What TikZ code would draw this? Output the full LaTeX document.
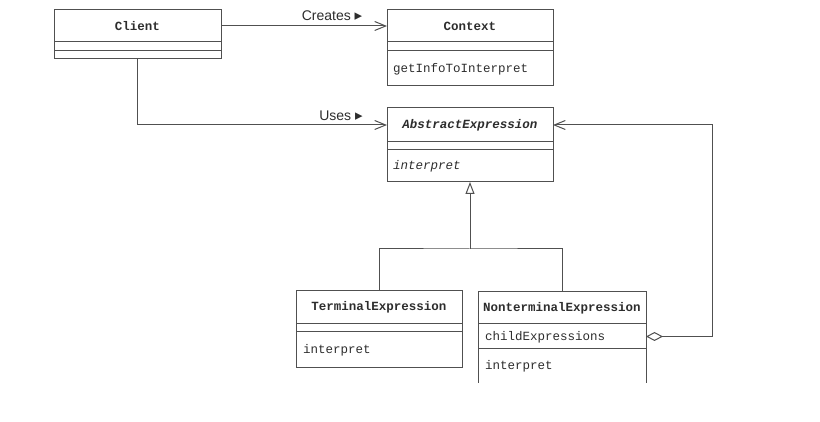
\documentclass[tikz,border=0pt]{standalone}
\usepackage{fontspec}
\setmainfont{Liberation Sans}
\setmonofont{Liberation Mono}
\newfontfamily\symfont{DejaVu Sans}
\usetikzlibrary{arrows.meta}
\definecolor{ln}{RGB}{80,80,80}
\definecolor{tx}{RGB}{45,45,45}
\tikzset{
  comp/.style={draw=ln, line width=1pt, inner sep=0pt, outer sep=0pt, anchor=north west, text=tx},
  titlefont/.style={font=\ttfamily\bfseries\fontsize{12.5}{14}\selectfont},
  opfont/.style={font=\ttfamily\fontsize{12.5}{14}\selectfont, text=tx},
  conn/.style={draw=ln, line width=1pt},
  assoc/.style={conn, -{Straight Barb[length=11pt,width=9pt,line width=1pt]}},
  gen/.style={conn, -{Triangle[open,length=12pt,width=9pt,line width=1pt,fill=white]}},
  agg/.style={conn, {Diamond[open,length=17pt,width=9pt,line width=1pt,fill=white]}-{Straight Barb[length=11pt,width=9pt,line width=1pt]}},
  lbl/.style={font=\fontsize{14}{16}\selectfont, text=tx, inner sep=0pt},
  oplbl/.style={opfont, anchor=west, inner sep=0pt}
}
\newcommand{\tri}{{\symfont\fontsize{15}{16}\selectfont ▸}}
\begin{document}
\begin{tikzpicture}[x=1pt,y=-1pt]
\useasboundingbox (0,0) rectangle (820,422);
% Client
\node[comp, titlefont, minimum width=167pt, minimum height=32pt] (cl-title) at (54,10) {Client};
\node[comp, minimum width=167pt, minimum height=9pt] (cl-attr) at (54,42) {};
\node[comp, minimum width=167pt, minimum height=8pt] (cl-ops) at (54,51) {};
% Context
\node[comp, titlefont, minimum width=166pt, minimum height=32pt] (ctx-title) at (387,10) {Context};
\node[comp, minimum width=166pt, minimum height=9pt] (ctx-attr) at (387,42) {};
\node[comp, minimum width=166pt, minimum height=35pt] (ctx-ops) at (387,51) {};
\node[oplbl] (ctx-op1) at (393,69) {getInfoToInterpret};
% AbstractExpression
\node[comp, font=\ttfamily\bfseries\itshape\fontsize{12.5}{14}\selectfont, minimum width=166pt, minimum height=34pt] (abs-title) at (387,108) {AbstractExpression};
\node[comp, minimum width=166pt, minimum height=8pt] (abs-attr) at (387,142) {};
\node[comp, minimum width=166pt, minimum height=32pt] (abs-ops) at (387,150) {};
\node[oplbl, font=\ttfamily\itshape\fontsize{12.5}{14}\selectfont] (abs-op1) at (393,166) {interpret};
% TerminalExpression
\node[comp, titlefont, minimum width=166pt, minimum height=33pt] (te-title) at (296,291) {TerminalExpression};
\node[comp, minimum width=166pt, minimum height=8pt] (te-attr) at (296,324) {};
\node[comp, minimum width=166pt, minimum height=35pt] (te-ops) at (296,332) {};
\node[oplbl] (te-op1) at (303,350) {interpret};
% NonterminalExpression
\node[comp, titlefont, minimum width=168pt, minimum height=32pt] (nt-title) at (478,292) {NonterminalExpression};
\node[comp, minimum width=168pt, minimum height=25pt] (nt-attr) at (478,324) {};
\node[oplbl] (nt-at1) at (485,337) {childExpressions};
\node[comp, draw=none, minimum width=168pt, minimum height=34pt] (nt-ops) at (478,349) {};
\node[oplbl] (nt-op1) at (485,366) {interpret};
\draw[conn] (nt-ops.north west) -- (nt-ops.south west);
\draw[conn] (nt-ops.north east) -- (nt-ops.south east);
% Connectors
\draw[assoc] (cl-title.east) -- (ctx-title.west);
\node[lbl] (lbl-creates) at (332,16) {Creates \tri};
\draw[assoc] (cl-ops.south) |- (abs-title.west);
\node[lbl] (lbl-uses) at (341,116) {Uses \tri};
\coordinate (join) at (470,249);
\draw[conn] (te-title.north) |- (join) -| (nt-title.north);
\draw[gen] (join) -- (abs-ops.south);
\coordinate (aggx) at (712,0);
\draw[agg] (nt-attr.east) -- (nt-attr.east -| aggx) |- (abs-title.east);
\end{tikzpicture}
\end{document}
